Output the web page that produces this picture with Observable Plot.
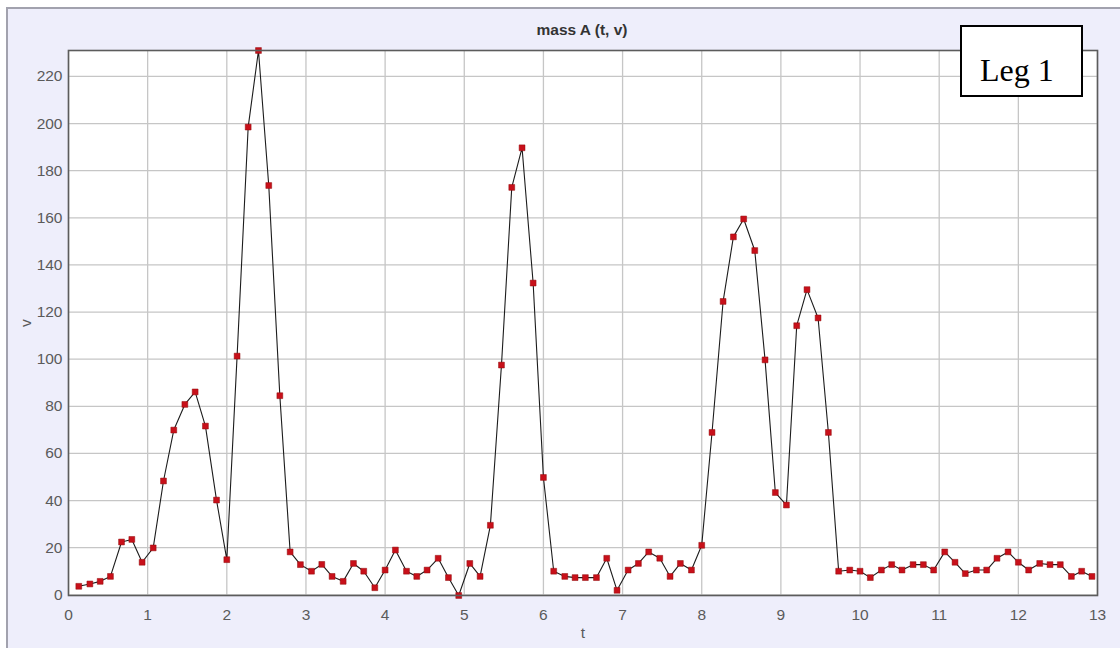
<!DOCTYPE html>
<html>
<head>
<meta charset="utf-8">
<script src="https://cdn.jsdelivr.net/npm/d3@7"></script>
<script src="https://cdn.jsdelivr.net/npm/@observablehq/plot@0.6"></script>
<style>
  html, body { margin: 0; padding: 0; background: #ffffff; }
  #wrap { position: relative; width: 1120px; height: 648px; overflow: hidden; }
  #panel {
    position: absolute; left: 6px; top: 7px; right: 0; bottom: 0;
    background: #eeeefb;
    border-left: 2px solid #a2a2ae; border-top: 2px solid #a2a2ae;
  }
  #chart { position: absolute; left: 0; top: 0; }
  #title {
    position: absolute; left: 382px; width: 400px; top: 21px; text-align: center;
    font: bold 15.5px "Liberation Sans", Arial, sans-serif; color: #333;
  }
  #legend {
    position: absolute; left: 960px; top: 25px; width: 119px; height: 68px;
    background: #ffffff; border: 2px solid #000;
    font: 32px "Liberation Serif", "Times New Roman", serif; color: #000;
    box-sizing: content-box;
  }
  #legend span { position: absolute; left: 18px; top: 27px; line-height: 1; }
</style>
</head>
<body>
<div id="wrap">
  <div id="panel"></div>
  <div id="chart"></div>
  <div id="title">mass A (t, v)</div>
  <div id="legend"><span>Leg 1</span></div>
</div>
<script>
// sample times
const t = [
  0.13, 0.27, 0.40, 0.53, 0.67, 0.80, 0.93, 1.07, 1.20, 1.33, 1.47, 1.60, 1.73, 1.87, 2.00,
  2.13, 2.27, 2.40, 2.53, 2.67, 2.80, 2.93, 3.07, 3.20, 3.33, 3.47, 3.60, 3.73, 3.87, 4.00,
  4.13, 4.27, 4.40, 4.53, 4.67, 4.80, 4.93, 5.07, 5.20, 5.33, 5.47, 5.60, 5.73, 5.87, 6.00,
  6.13, 6.27, 6.40, 6.53, 6.67, 6.80, 6.93, 7.07, 7.20, 7.33, 7.47, 7.60, 7.73, 7.87, 8.00,
  8.13, 8.27, 8.40, 8.53, 8.67, 8.80, 8.93, 9.07, 9.20, 9.33, 9.47, 9.60, 9.73, 9.87, 10.00,
  10.13, 10.27, 10.40, 10.53, 10.67, 10.80, 10.93, 11.07, 11.20, 11.33, 11.47, 11.60, 11.73, 11.87, 12.00,
  12.13, 12.27, 12.40, 12.53, 12.67, 12.80, 12.93
];

// measured v at each time
const v = [
  3.6, 4.6, 5.7, 7.8, 22.4, 23.5, 13.8, 19.9, 48.3, 69.9, 80.8, 86.1, 71.6, 40.2, 14.9,
  101.3, 198.5, 231.0, 173.7, 84.5, 18.2, 12.8, 10.0, 12.9, 7.8, 5.7, 13.3, 10.0, 3.0, 10.5,
  19.0, 10.0, 7.8, 10.5, 15.5, 7.3, -0.3, 13.3, 7.8, 29.5, 97.5, 172.9, 189.7, 132.3, 49.8,
  10.0, 7.8, 7.3, 7.3, 7.3, 15.5, 1.9, 10.5, 13.3, 18.2, 15.5, 7.8, 13.3, 10.5, 21.0,
  68.9, 124.5, 151.9, 159.5, 146.1, 99.7, 43.4, 38.1, 114.2, 129.5, 117.5, 68.9, 10.0, 10.5, 10.0,
  7.3, 10.5, 12.8, 10.5, 12.8, 12.8, 10.5, 18.2, 13.8, 9.0, 10.5, 10.5, 15.5, 18.2, 13.8,
  10.5, 13.3, 12.8, 12.8, 7.8, 10.0, 7.8
];

const xTicks = [0, 1, 2, 3, 4, 5, 6, 7, 8, 9, 10, 11, 12, 13];
const yTicks = [0, 20, 40, 60, 80, 100, 120, 140, 160, 180, 200, 220];

const data = t.map((ti, i) => ({t: ti, v: v[i]}));

const fontFamily = "'Liberation Sans', Arial, sans-serif";
const gridStyle = {stroke: "#c6c6c6", strokeOpacity: 1, strokeWidth: 1.3};

const chart = Plot.plot({
  width: 1120,
  height: 648,
  marginLeft: 68,
  marginRight: 23,
  marginTop: 50,
  marginBottom: 53,
  style: {background: "transparent", color: "#5a5a5a", fontFamily, fontSize: "15.5px"},
  x: {domain: [0, 13]},
  y: {domain: [-0.3, 231]},
  marks: [
    Plot.frame({fill: "#ffffff", stroke: "none"}),
    Plot.gridX(xTicks, gridStyle),
    Plot.gridY(yTicks, gridStyle),
    Plot.axisX(xTicks, {
      tickSize: 0, tickPadding: 13, tickFormat: d => String(d), fill: "#5a5a5a",
      label: "t", labelAnchor: "center", labelArrow: "none", labelOffset: 42
    }),
    Plot.axisY(yTicks, {
      tickSize: 0, tickPadding: 6, tickFormat: d => String(d), fill: "#5a5a5a",
      label: "v", labelAnchor: "center", labelArrow: "none", labelOffset: 49
    }),
    Plot.line(data, {x: "t", y: "v", stroke: "#1c1c1c", strokeWidth: 1.1}),
    Plot.dot(data, {x: "t", y: "v", symbol: "square", r: 3.3, fill: "#c8101a", stroke: "#900a0a", strokeWidth: 0.5}),
    Plot.frame({stroke: "#5c5c5c", strokeWidth: 1.6})
  ]
});

document.getElementById("chart").appendChild(chart);
</script>
</body>
</html>
